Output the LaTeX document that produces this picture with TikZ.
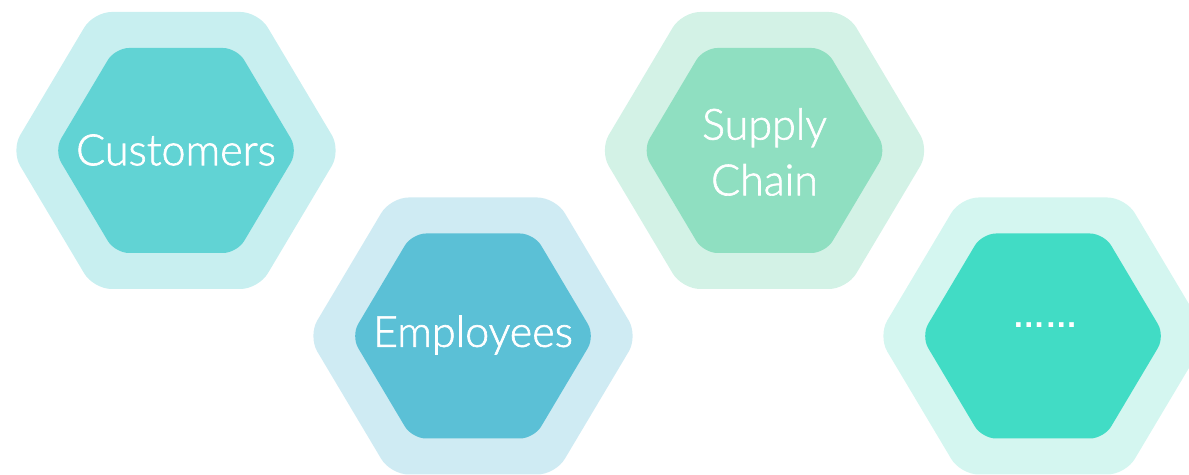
\documentclass[tikz,border=0pt]{standalone}
\usepackage{fontspec}
\setmainfont{Lato Light}[BoldFont={Lato Light}, BoldFeatures={FakeBold=1.5}]
\newfontfamily\dotfont{Liberation Sans}
\definecolor{outA}{HTML}{C8EFF0}
\definecolor{inA}{HTML}{61D3D4}
\definecolor{outB}{HTML}{CFEBF3}
\definecolor{inB}{HTML}{5BC0D6}
\definecolor{outC}{HTML}{D3F2E6}
\definecolor{inC}{HTML}{8FDFC1}
\definecolor{outD}{HTML}{D4F6F0}
\definecolor{inD}{HTML}{41DCC5}
% hexagon path: centre x, centre y, half width a, half height h
\newcommand{\hexpath}[4]{(#1-#3,#2) -- (#1-#3/2,#2-#4) -- (#1+#3/2,#2-#4) -- (#1+#3,#2) -- (#1+#3/2,#2+#4) -- (#1-#3/2,#2+#4) -- cycle}
\newcommand{\hexpair}[4]{%
  \fill[hexoutstyle, fill=#3] \hexpath{#1}{#2}{165}{138.5};
  \fill[hexinstyle, fill=#4] \hexpath{#1}{#2}{122}{102.5};
}
\tikzset{
  hexoutstyle/.style={rounded corners=0.36cm},
  hexinstyle/.style={rounded corners=0.28cm},
  lbl/.style={text=white, font=\fontsize{24.5}{31.7}\selectfont\bfseries, align=center, inner sep=0pt}
}
\begin{document}
\begin{tikzpicture}[x=0.02cm, y=-0.02cm]
\useasboundingbox (0,0) rectangle (1189,475);
\hexpair{176}{150.5}{outA}{inA}
\node[lbl] (t1) at (176,150) {Customers};
\hexpair{473}{336}{outB}{inB}
\node[lbl] (t2) at (473,335) {Employees};
\hexpair{764.5}{150.5}{outC}{inC}
\node[lbl] (t3) at (764.5,152) {Supply\\Chain};
\hexpair{1043}{336}{outD}{inD}
\node[text=white, inner sep=0pt, font=\dotfont\bfseries\fontsize{18.5}{22}\selectfont, anchor=base] (t4) at (1045,328) {……};
\end{tikzpicture}
\end{document}
